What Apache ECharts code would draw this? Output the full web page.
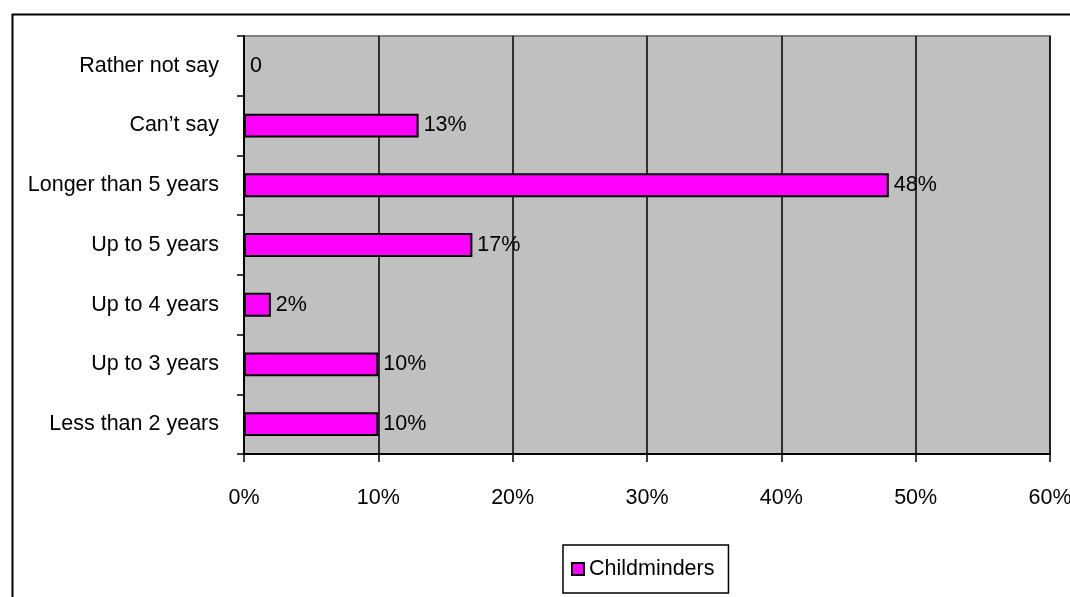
<!DOCTYPE html>
<html>
<head>
<meta charset="utf-8">
<script src="https://cdn.jsdelivr.net/npm/echarts@6/dist/echarts.min.js"></script>
<style>
html,body{margin:0;padding:0;background:#fff;}
#c{width:1070px;height:597px;}
</style>
</head>
<body>
<div id="c"></div>
<script>
const categories = ['Less than 2 years','Up to 3 years','Up to 4 years','Up to 5 years','Longer than 5 years','Can\u2019t say','Rather not say'];
const childminders = [10, 10, 2, 17, 48, 13, 0];
const seriesName = 'Childminders';
const xTicks = {min: 0, max: 60, interval: 10};

const FONT = '"Liberation Sans Narrow", "Arial Narrow", "Liberation Sans", Arial, sans-serif';
const FS = 21.5;
const chart = echarts.init(document.getElementById('c'));
chart.setOption({
  animation: false,
  backgroundColor: '#ffffff',
  graphic: [{
    type: 'rect', left: 10, top: 12, z: -10,
    shape: {width: 1200, height: 700},
    style: {fill: 'none', stroke: '#000', lineWidth: 2}
  }],
  grid: {
    left: 244, right: 20, top: 36, bottom: 143,
    outerBoundsMode: 'none', containLabel: false,
    show: true, backgroundColor: '#C0C0C0', borderColor: '#808080', borderWidth: 2
  },
  legend: {
    data: [seriesName],
    left: 563, top: 545,
    padding: [13, 14, 13, 8],
    backgroundColor: '#fff', borderColor: '#000', borderWidth: 1.5,
    itemWidth: 12, itemHeight: 12, itemGap: 5,
    icon: 'rect',
    textStyle: {fontFamily: FONT, fontSize: FS, color: '#000'}
  },
  xAxis: {
    type: 'value', min: xTicks.min, max: xTicks.max, interval: xTicks.interval,
    axisLine: {show: true, lineStyle: {color: '#000', width: 2}},
    axisTick: {show: true, length: 8, lineStyle: {color: '#000', width: 1.5}},
    axisLabel: {formatter: '{value}%', margin: 33, fontFamily: FONT, fontSize: FS, color: '#000'},
    splitLine: {show: true, lineStyle: {color: '#000', width: 1.5}}
  },
  yAxis: {
    type: 'category', data: categories,
    axisLine: {show: true, lineStyle: {color: '#000', width: 2}},
    axisTick: {show: true, length: 7, lineStyle: {color: '#000', width: 1.5}},
    axisLabel: {margin: 25, fontFamily: FONT, fontSize: FS, color: '#000'}
  },
  series: [{
    name: seriesName, type: 'bar', data: childminders,
    barWidth: '40%',
    itemStyle: {color: '#FF00FF', borderColor: '#000', borderWidth: 2},
    label: {
      show: true, position: 'right', distance: 5,
      fontFamily: FONT, fontSize: FS, color: '#000',
      formatter: p => p.value === 0 ? '0' : p.value + '%'
    }
  }]
});
</script>
</body>
</html>
